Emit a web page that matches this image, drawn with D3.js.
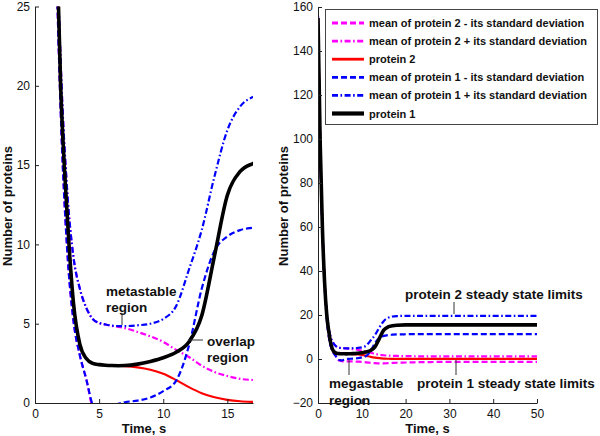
<!DOCTYPE html>
<html>
<head>
<meta charset="utf-8">
<script src="https://cdn.jsdelivr.net/npm/d3@7"></script>
<style>
  html, body { margin: 0; padding: 0; background: #fff; }
  svg { display: block; }
  text { font-family: "Liberation Sans", Arial, sans-serif; fill: #111; }
</style>
</head>
<body>
<svg id="chart" width="600" height="436"></svg>
<script>
// ---------------- data ----------------
const time = [0,0.5,1,1.5,2,2.5,3,3.5,4,4.5,5,5.5,6,6.5,7,8,9,10,11,12,13,14,15,16,17,18,20,22,25,30,35,40,45,50];

const protein1      = [155,98,60,35,20,12,6.3,3.7,2.8,2.5, 2.42,2.38,2.36,2.35,2.36, 2.45,2.62,2.85,3.2,3.85,5.5,9.3,13.1,14.6,15.1, 15.35,15.5,15.5,15.5,15.5,15.5,15.5,15.5,15.5];
const protein1Plus  = [156,99,61,36,21.5,13.5,9.2,7.2,6.0,5.3, 5.05,4.95,4.88,4.85,4.85, 4.9,5.0,5.3,6.1,8.4,10.9,14.3,17.2,18.7,19.3, 19.5,19.6,19.6,19.6,19.6,19.6,19.6,19.6,19.6];
const protein1Minus = [154,97,59,34,18.5,9.8,5.2,3.0,1.5,-0.1, -0.5,-0.6,-0.3,-0.05,0.05, 0.15,0.35,0.75,1.4,3.6,7.2,9.6,10.5,10.9,11.05, 11.15,11.25,11.3,11.3,11.3,11.3,11.3,11.3,11.3];
const protein2      = [155,98,60,35,20,12,6.3,3.7,2.8,2.5, 2.42,2.38,2.36,2.35,2.33, 2.25,2.1,1.85,1.45,1.0,0.62,0.36,0.2,0.11,0.07, 0.05,0.03,0.03,0.03,0.03,0.03,0.03,0.03,0.03];
const protein2Plus  = [156,99,61,36,21.5,13.5,9.2,7.2,6.0,5.3, 5.05,4.95,4.86,4.8,4.72, 4.48,4.2,3.85,3.35,2.9,2.35,1.95,1.7,1.52,1.45, 1.4,1.3,1.25,1.2,1.2,1.2,1.2,1.2,1.2];
const protein2Minus = [154,97,59,34,18.5,9.8,5.2,3.0,1.5,-0.3, -0.8,-1.0,-1.1,-1.1,-1.1, -1.1,-1.2,-1.3,-1.5,-1.7,-1.9,-2.0,-2.0,-1.9,-1.8, -1.7,-1.6,-1.5,-1.4,-1.3,-1.3,-1.3,-1.3,-1.3];

const legendLabels = [
  "mean of protein 2 - its standard deviation",
  "mean of protein 2 + its standard deviation",
  "protein 2",
  "mean of protein 1 - its standard deviation",
  "mean of protein 1 + its standard deviation",
  "protein 1"
];

const leftXTicks  = [0,5,10,15];
const leftYTicks  = [0,5,10,15,20,25];
const rightXTicks = [0,10,20,30,40,50];
const rightYTicks = [-20,0,20,40,60,80,100,120,140,160];

const xTitle = "Time, s";
const yTitle = "Number of proteins";

// ---------------- styles (draw order = legend order) ----------------
const seriesValues = [protein2Minus, protein2Plus, protein2, protein1Minus, protein1Plus, protein1];
const styles = [
  {color: "#ff00ff", width: 2.2, dash: "6,3"},
  {color: "#ff00ff", width: 2.2, dash: "6,2.5,1.6,2.5"},
  {color: "#ff0000", width: 2.2, dash: null},
  {color: "#0000ff", width: 2.2, dash: "6,3"},
  {color: "#0000ff", width: 2.2, dash: "6,2.5,1.6,2.5"},
  {color: "#000000", width: 3.6, dash: null}
];

const svg = d3.select("#chart");
const FONT = '"Liberation Sans", Arial, sans-serif';

function panel(id, xDomain, xRange, yDomain, yRange, xTicks, yTicks, yTitleX, xTitleX) {
  const x = d3.scaleLinear().domain(xDomain).range(xRange);
  const y = d3.scaleLinear().domain(yDomain).range(yRange);

  svg.append("clipPath").attr("id", id)
    .append("rect")
    .attr("x", xRange[0]).attr("y", yRange[1])
    .attr("width", xRange[1] - xRange[0]).attr("height", yRange[0] - yRange[1]);

  const g = svg.append("g").attr("clip-path", `url(#${id})`);
  const line = d3.line().x((d, i) => x(time[i])).y(d => y(d)).curve(d3.curveMonotoneX);

  seriesValues.forEach((vals, k) => {
    const st = styles[k];
    g.append("path")
      .datum(vals)
      .attr("d", line)
      .attr("fill", "none")
      .attr("stroke", st.color)
      .attr("stroke-width", st.width)
      .attr("stroke-dasharray", st.dash)
      .attr("stroke-linejoin", "round");
  });

  const xAxis = svg.append("g")
    .attr("transform", `translate(0,${yRange[0]})`)
    .call(d3.axisBottom(x).tickValues(xTicks).tickFormat(d3.format("d"))
      .tickSizeInner(-4).tickSizeOuter(0).tickPadding(6));
  const yAxis = svg.append("g")
    .attr("transform", `translate(${xRange[0]},0)`)
    .call(d3.axisLeft(y).tickValues(yTicks).tickFormat(d3.format("d"))
      .tickSizeInner(-4).tickSizeOuter(0).tickPadding(5));
  [xAxis, yAxis].forEach(a => {
    a.selectAll("path, line").attr("stroke", "#222").attr("stroke-width", 1);
    a.selectAll("text").style("font-family", FONT).style("font-size", "12px").attr("fill", "#111");
  });

  svg.append("text")
    .attr("x", xTitleX).attr("y", 433)
    .attr("text-anchor", "middle")
    .style("font-size", "13px").style("font-weight", "bold")
    .text(xTitle);
  svg.append("text")
    .attr("transform", `translate(${yTitleX},206) rotate(-90)`)
    .attr("text-anchor", "middle")
    .style("font-size", "13px").style("font-weight", "bold")
    .text(yTitle);

  return {x, y};
}

panel("clipL", [0, 17], [35, 253], [0, 25], [403, 6.5], leftXTicks, leftYTicks, 11.5, 144);
panel("clipR", [0, 50], [318, 537], [-20, 160], [403, 7], rightXTicks, rightYTicks, 288, 427.5);

// ---------------- legend ----------------
const leg = svg.append("g");
leg.append("rect")
  .attr("x", 325.5).attr("y", 9.5).attr("width", 272).attr("height", 115)
  .attr("fill", "#fff").attr("stroke", "#444").attr("stroke-width", 1);
legendLabels.forEach((lab, k) => {
  const yy = 23 + k * 18.1;
  const st = styles[k];
  leg.append("line")
    .attr("x1", 332).attr("x2", 364).attr("y1", yy).attr("y2", yy)
    .attr("stroke", st.color).attr("stroke-width", st.width + 0.6)
    .attr("stroke-dasharray", st.dash);
  leg.append("text")
    .attr("x", 369).attr("y", yy + 4)
    .style("font-size", "11px").style("font-weight", "bold")
    .text(lab);
});

// ---------------- annotations ----------------
function note(lines, x, y0, dy) {
  lines.forEach((t, i) => {
    svg.append("text").attr("x", x).attr("y", y0 + i * dy)
      .style("font-size", "13.5px").style("font-weight", "bold").text(t);
  });
}
function pointer(x1, y1, x2, y2) {
  svg.append("line").attr("x1", x1).attr("y1", y1).attr("x2", x2).attr("y2", y2)
    .attr("stroke", "#333").attr("stroke-width", 1);
}
note(["metastable", "region"], 106, 296, 16);
pointer(122, 313, 122, 325);
note(["overlap", "region"], 207, 346, 16);
pointer(188, 340, 203, 340);
note(["protein 2 steady state limits"], 405, 299, 0);
pointer(454, 302, 454, 314);
note(["megastable", "region"], 329, 388, 17);
pointer(349, 360, 349, 375);
note(["protein 1 steady state limits"], 417, 388, 0);
pointer(456, 360, 456, 375);
</script>
</body>
</html>
